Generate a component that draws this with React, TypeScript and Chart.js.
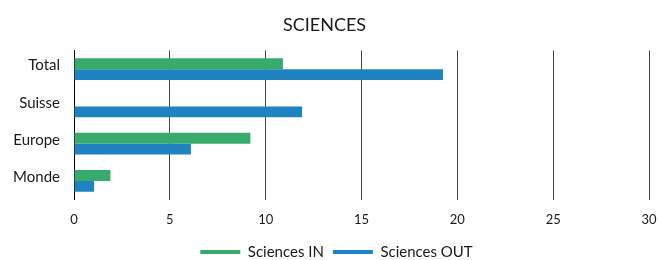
import React, { useEffect, useRef } from 'react';
import { Chart, registerables } from 'chart.js';

Chart.register(...registerables);

const chartTitle = 'SCIENCES';
const categories = ['Total', 'Suisse', 'Europe', 'Monde'];
const seriesNames = ['Sciences IN', 'Sciences OUT'];
const sciencesIn = [10.9, 0, 9.2, 1.9];
const sciencesOut = [19.25, 11.9, 6.1, 1.05];
const xMin = 0;
const xMax = 30;
const xStep = 5;

const GREEN = '#37aa6c';
const BLUE = '#1f83c1';
const TEXT = '#1a1a1a';
const FONT = 'Lato, "Open Sans", sans-serif';

const legendShift = {
  id: 'legendShift',
  afterLayout(chart: any) {
    const l = chart.legend;
    if (l) {
      l.left += 12;
      l.right += 12;
    }
  },
};

export default function App() {
  const ref = useRef<HTMLCanvasElement | null>(null);

  useEffect(() => {
    if (!ref.current) return;
    const chart = new Chart(ref.current, {
      type: 'bar',
      data: {
        labels: categories,
        datasets: [
          {
            label: seriesNames[0],
            data: sciencesIn,
            backgroundColor: GREEN,
            borderWidth: 0,
            categoryPercentage: 0.59,
            barPercentage: 1,
          },
          {
            label: seriesNames[1],
            data: sciencesOut,
            backgroundColor: BLUE,
            borderWidth: 0,
            categoryPercentage: 0.59,
            barPercentage: 1,
          },
        ],
      },
      plugins: [legendShift],
      options: {
        indexAxis: 'y',
        responsive: false,
        animation: false,
        layout: { padding: { top: 0, left: 0, right: 12, bottom: -9.5 } },
        plugins: {
          title: {
            display: true,
            text: chartTitle,
            color: TEXT,
            font: { family: FONT, size: 18, weight: 'normal' },
            padding: { top: 14, bottom: 14.9 },
          },
          legend: {
            position: 'bottom',
            labels: {
              color: TEXT,
              font: { family: FONT, size: 15 },
              boxWidth: 40,
              boxHeight: 4,
              padding: 9,
            },
          },
          tooltip: { enabled: false },
        },
        scales: {
          x: {
            type: 'linear',
            min: xMin,
            max: xMax,
            z: 1,
            ticks: {
              stepSize: xStep,
              color: TEXT,
              font: { family: FONT, size: 13 },
              padding: 12.5,
              maxRotation: 0,
            },
            grid: {
              color: 'rgba(0,0,0,0.72)',
              lineWidth: 1,
              drawTicks: false,
            },
            border: { display: false },
            afterFit: (s: any) => {
              s.height = 36;
              s.paddingLeft = 0;
              s.paddingRight = 0;
            },
          },
          y: {
            type: 'category',
            z: 1,
            ticks: {
              color: TEXT,
              font: { family: FONT, size: 15 },
              padding: 14,
              labelOffset: -3.5,
            },
            grid: { display: false, drawTicks: false },
            border: { display: true, color: '#000', width: 1 },
            afterFit: (s: any) => {
              s.width = 74;
              s.paddingTop = 0;
              s.paddingBottom = 0;
            },
          },
        },
      },
    } as any);
    return () => chart.destroy();
  }, []);

  return (
    <div style={{ position: 'absolute', left: 0, top: 0, width: 661, height: 260, background: '#fff' }}>
      <canvas ref={ref} width={661} height={260} style={{ display: 'block' }} />
    </div>
  );
}
